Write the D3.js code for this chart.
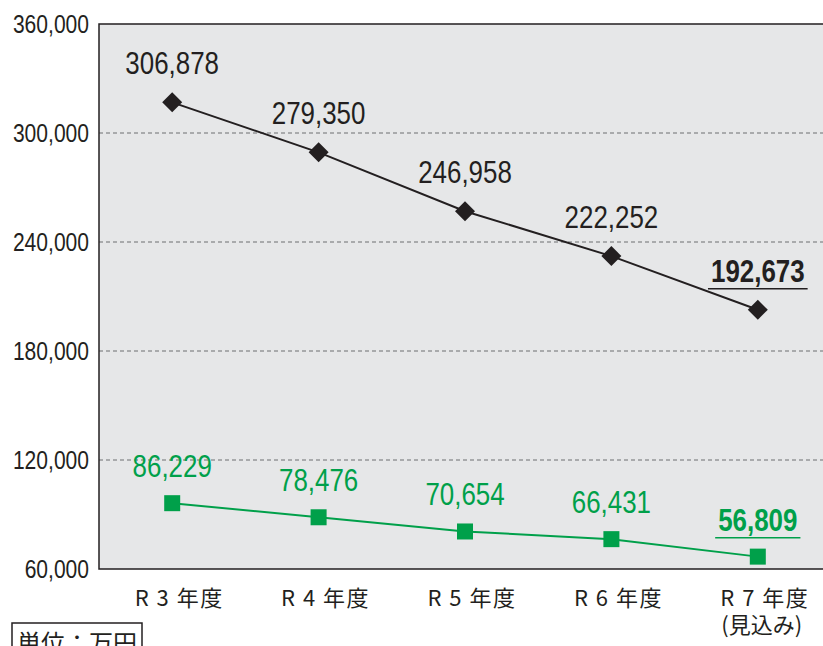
<!DOCTYPE html>
<html>
<head>
<meta charset="utf-8">
<script src="https://cdn.jsdelivr.net/npm/d3@7"></script>
<style>
  body { margin: 0; background: #fff; }
  svg { display: block; }
</style>
</head>
<body>
<div id="chart"></div>
<script>
// data
var categories = ['R 3 年度', 'R 4 年度', 'R 5 年度', 'R 6 年度', 'R 7 年度'];
var sub_labels = ['', '', '', '', '(見込み)'];
var total_values = [306878, 279350, 246958, 222252, 192673];
var green_values = [86229, 78476, 70654, 66431, 56809];
// the original plots on a 50,000-350,000 scale but prints these labels on its gridlines
var tick_values = [50000, 110000, 170000, 230000, 290000, 350000];
var tick_labels = ['60,000', '120,000', '180,000', '240,000', '300,000', '360,000'];

var chart_width = 823;
var chart_height = 646;
var plot_left = 99, plot_top = 24, plot_bottom = 569, plot_right = 831;

var black = '#231f20';
var green = '#00a04a';
var num_font = '"Liberation Sans", Arial, sans-serif';
var jp_font = '"Noto Sans CJK JP", "Noto Sans", sans-serif';
var narrow = 0.81; // no condensed font installed, squeeze horizontally

var svg = d3.select('#chart')
  .append('svg')
  .attr('width', chart_width)
  .attr('height', chart_height);

// scales
var x_scale = d3.scaleBand()
  .domain(d3.range(categories.length))
  .range([plot_left, plot_right]);

var y_scale = d3.scaleLinear()
  .domain([50000, 350000])
  .range([plot_bottom, plot_top]);

function cx(i) {
  return x_scale(i) + x_scale.bandwidth() / 2;
}

// plot background
svg.append('rect')
  .attr('x', plot_left)
  .attr('y', plot_top)
  .attr('width', plot_right - plot_left)
  .attr('height', plot_bottom - plot_top)
  .attr('fill', '#e6e7e8');

// grid lines (dashed)
svg.selectAll('line.grid')
  .data(tick_values.slice(1, -1))
  .enter()
  .append('line')
  .attr('class', 'grid')
  .attr('x1', plot_left)
  .attr('x2', plot_right)
  .attr('y1', function(d) { return y_scale(d); })
  .attr('y2', function(d) { return y_scale(d); })
  .attr('stroke', '#6d6e71')
  .attr('stroke-width', 1)
  .attr('stroke-dasharray', '4,3');

// frame: top, left, bottom
svg.append('path')
  .attr('d', 'M' + plot_right + ',' + plot_top + 'H' + plot_left + 'V' + plot_bottom + 'H' + plot_right)
  .attr('fill', 'none')
  .attr('stroke', black)
  .attr('stroke-width', 1.5);

// y axis labels (squeezed, so drawn by hand at the scale positions)
svg.selectAll('text.ytick')
  .data(tick_values)
  .enter()
  .append('text')
  .attr('class', 'ytick')
  .text(function(d, i) { return tick_labels[i]; })
  .attr('transform', function(d) {
    return 'translate(' + (plot_left - 10) + ',' + (y_scale(d) + 9) + ') scale(' + narrow + ',1)';
  })
  .attr('text-anchor', 'end')
  .attr('font-family', num_font)
  .attr('font-size', 26)
  .attr('fill', black);

// x category labels
svg.selectAll('text.cat')
  .data(categories)
  .enter()
  .append('text')
  .attr('class', 'cat')
  .text(function(d) { return d; })
  .attr('x', function(d, i) { return cx(i) + 7; })
  .attr('y', 606)
  .attr('text-anchor', 'middle')
  .attr('font-family', jp_font)
  .attr('font-size', 22)
  .attr('letter-spacing', 1.5)
  .attr('fill', black);

svg.selectAll('text.sub')
  .data(sub_labels)
  .enter()
  .append('text')
  .attr('class', 'sub')
  .text(function(d) { return d; })
  .attr('x', function(d, i) { return cx(i) + 4; })
  .attr('y', 633)
  .attr('text-anchor', 'middle')
  .attr('font-family', jp_font)
  .attr('font-size', 22)
  .attr('fill', black);

// lines
var line = d3.line()
  .x(function(d, i) { return cx(i); })
  .y(function(d) { return y_scale(d); });

svg.append('path')
  .datum(total_values)
  .attr('d', line)
  .attr('fill', 'none')
  .attr('stroke', black)
  .attr('stroke-width', 2);

svg.append('path')
  .datum(green_values)
  .attr('d', line)
  .attr('fill', 'none')
  .attr('stroke', green)
  .attr('stroke-width', 2);

// markers
svg.selectAll('path.diamond')
  .data(total_values)
  .enter()
  .append('path')
  .attr('class', 'diamond')
  .attr('d', d3.symbol().type(d3.symbolSquare).size(200))
  .attr('transform', function(d, i) {
    return 'translate(' + cx(i) + ',' + y_scale(d) + ') rotate(45)';
  })
  .attr('fill', black);

svg.selectAll('rect.square')
  .data(green_values)
  .enter()
  .append('rect')
  .attr('class', 'square')
  .attr('x', function(d, i) { return cx(i) - 8; })
  .attr('y', function(d) { return y_scale(d) - 8; })
  .attr('width', 16)
  .attr('height', 16)
  .attr('fill', green);

// value labels
function add_labels(values, color, offset, cls) {
  var last = values.length - 1;
  var labels = svg.selectAll('text.' + cls)
    .data(values)
    .enter()
    .append('text')
    .attr('class', cls)
    .text(function(d) { return d3.format(',')(d); })
    .attr('transform', function(d, i) {
      return 'translate(' + cx(i) + ',' + (y_scale(d) - offset) + ') scale(' + narrow + ',1)';
    })
    .attr('text-anchor', 'middle')
    .attr('font-family', num_font)
    .attr('font-size', 32)
    .attr('font-weight', function(d, i) { return i === last ? 'bold' : 'normal'; })
    .attr('fill', color);

  // underline for the last (estimated) value
  var lastNode = labels.filter(function(d, i) { return i === last; }).node();
  var half = lastNode.getBBox().width * narrow / 2;
  var ly = y_scale(values[last]) - offset + 7;
  svg.append('line')
    .attr('x1', cx(last) - half - 3)
    .attr('x2', cx(last) + half + 3)
    .attr('y1', ly)
    .attr('y2', ly)
    .attr('stroke', color)
    .attr('stroke-width', 1.5);
}

add_labels(total_values, black, 28, 'lbl-total');
add_labels(green_values, green, 26, 'lbl-green');

// unit box
var unit = svg.append('g').attr('transform', 'translate(12,623)');
unit.append('rect')
  .attr('width', 130)
  .attr('height', 40)
  .attr('fill', 'none')
  .attr('stroke', black)
  .attr('stroke-width', 1.5);
unit.append('text')
  .text('単位：万円')
  .attr('x', 65)
  .attr('y', 29)
  .attr('text-anchor', 'middle')
  .attr('font-family', jp_font)
  .attr('font-size', 24)
  .attr('fill', black);
</script>
</body>
</html>
